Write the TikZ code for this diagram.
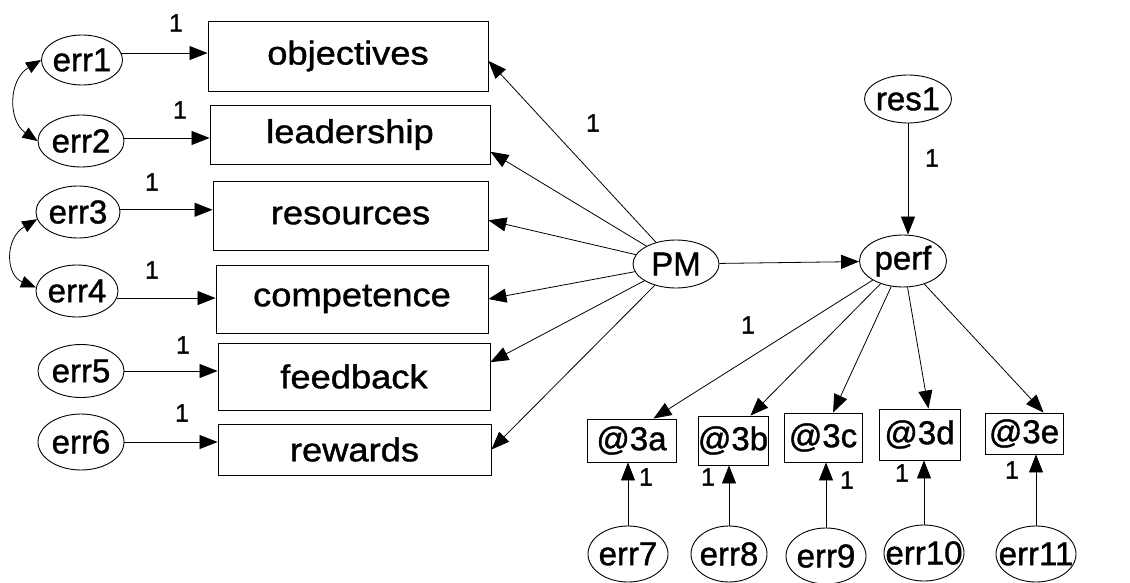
\documentclass[tikz,border=0pt]{standalone}
\usepackage{fontspec}
\setmainfont{Liberation Sans}[FakeStretch=1.1,FakeBold=1.2]
\newfontfamily\plainsans{Liberation Sans}[FakeBold=1.2]
\usetikzlibrary{arrows.meta,shapes.geometric}
\newcommand\ctext[1]{\makebox[0pt]{#1}}
\tikzset{
  latent/.style={ellipse,draw,line width=0.9pt,inner sep=0pt,font=\plainsans\fontsize{33}{36}\selectfont},
  observed/.style={rectangle,draw,line width=0.9pt,inner sep=0pt,font=\fontsize{33}{36}\selectfont},
  indic/.style={rectangle,draw,line width=0.9pt,inner sep=0pt,font=\plainsans\fontsize{33}{36}\selectfont},
  reg/.style={line width=0.8pt,-{Triangle[length=18pt,width=14pt]}},
  covar/.style={line width=0.8pt,{Triangle[length=15pt,width=12pt]}-{Triangle[length=15pt,width=12pt]}},
  wt/.style={font=\plainsans\fontsize{25}{27}\selectfont,inner sep=0pt},
}
\begin{document}
\begin{tikzpicture}[x=1pt,y=-1pt]
\useasboundingbox (0,0) rectangle (1130,583);

% observed indicators of PM
\node[observed,minimum width=280pt,minimum height=70pt] (obj) at (348,56) {\ctext{objectives}};
\node[observed,minimum width=280pt,minimum height=59pt] (lead) at (350,134.5) {\ctext{leadership}};
\node[observed,minimum width=275pt,minimum height=69pt] (res) at (350.5,215.5) {\ctext{resources}};
\node[observed,minimum width=272pt,minimum height=68pt] (comp) at (352,299) {\ctext{competence}};
\node[observed,minimum width=272pt,minimum height=67pt] (feed) at (354,376.5) {\ctext{feedback}};
\node[observed,minimum width=273pt,minimum height=51pt] (rew) at (354.5,449.5) {\ctext{rewards}};

% error terms of the PM indicators
\node[latent,minimum width=81pt,minimum height=50pt] (err1) at (82,60) {\ctext{err1}};
\node[latent,minimum width=86pt,minimum height=52pt] (err2) at (81,141) {\ctext{err2}};
\node[latent,minimum width=84pt,minimum height=52pt] (err3) at (78,212) {\ctext{err3}};
\node[latent,minimum width=82pt,minimum height=52pt] (err4) at (77,291) {\ctext{err4}};
\node[latent,minimum width=86pt,minimum height=53pt] (err5) at (81,371) {\ctext{err5}};
\node[latent,minimum width=86pt,minimum height=56pt] (err6) at (81,442) {\ctext{err6}};

% latent variables
\node[latent,minimum width=86pt,minimum height=48pt] (pm) at (676,264) {\ctext{PM}};
\node[latent,minimum width=87pt,minimum height=52pt] (perf) at (903,261) {\ctext{perf}};
\node[latent,minimum width=87pt,minimum height=48pt] (res1) at (908,99) {\ctext{res1}};

% indicators of perf
\node[indic,minimum width=89pt,minimum height=43pt] (a) at (631.5,440.5) {\ctext{@3a}};
\node[indic,minimum width=70pt,minimum height=49pt] (b) at (733,440.5) {\ctext{@3b}};
\node[indic,minimum width=78pt,minimum height=49pt] (c) at (823,437.5) {\ctext{@3c}};
\node[indic,minimum width=81pt,minimum height=51pt] (d) at (919.5,434.5) {\ctext{@3d}};
\node[indic,minimum width=78pt,minimum height=41pt] (e) at (1024,433.5) {\ctext{@3e}};

% error terms of the perf indicators
\node[latent,minimum width=80pt,minimum height=56pt] (err7) at (628,554) {\ctext{err7}};
\node[latent,minimum width=76pt,minimum height=56pt] (err8) at (729,554) {\ctext{err8}};
\node[latent,minimum width=80pt,minimum height=56pt] (err9) at (826,556) {\ctext{err9}};
\node[latent,minimum width=80pt,minimum height=56pt] (err10) at (924,553) {\ctext{err10}};
\node[latent,minimum width=80pt,minimum height=56pt] (err11) at (1036,554) {\ctext{err11}};

% error paths into the PM indicators
\draw[reg] (err1.10) -- (err1.10 -| obj.west);
\draw[reg] (err2.4) -- (err2.4 -| lead.west);
\draw[reg] (err3.3) -- (err3.3 -| res.west);
\draw[reg] (err4.-10) -- (err4.-10 -| comp.west);
\draw[reg] (err5.east) -- (err5.east -| feed.west);
\draw[reg] (err6.east) -- (err6.east -| rew.west);

% covariances between error terms
\draw[covar] (err1.west) .. controls (8,80) and (8,121) .. (err2.west);
\draw[covar] (err3.190) .. controls (5,238) and (5,275) .. (err4.175);

% loadings of PM
\draw[reg] (pm) -- (obj.-2.5);
\draw[reg] (pm) -- (lead.-7.5);
\draw[reg] (pm) -- (res.-2.7);
\draw[reg] (pm) -- (comp.east);
\draw[reg] (pm) -- (feed.6);
\draw[reg] (pm) -- (rew.east);

% structural paths
\draw[reg] (pm) -- (perf);
\draw[reg] (res1.south) -- (res1.south |- perf.north);

% loadings of perf
\draw[reg] (perf) -- (a.45);
\draw[reg] (perf) -- (b.55);
\draw[reg] (perf) -- (c.68);
\draw[reg] (perf) -- (d.71.5);
\draw[reg] (perf) -- (e.47);

% error paths into the perf indicators
\draw[reg] (err7.north) -- (err7.north |- a.south);
\draw[reg] (err8.north) -- (err8.north |- b.south);
\draw[reg] (err9.north) -- (err9.north |- c.south);
\draw[reg] (err10.north) -- (err10.north |- d.south);
\draw[reg] (err11.north) -- (err11.north |- e.south);

% fixed weights
\node[wt] (w1) at (176,23) {1};
\node[wt] (w2) at (180,110) {1};
\node[wt] (w3) at (152,182) {1};
\node[wt] (w4) at (152,270) {1};
\node[wt] (w5) at (183,345) {1};
\node[wt] (w6) at (182,413) {1};
\node[wt] (wpm) at (593,123) {1};
\node[wt] (wres) at (932,158) {1};
\node[wt] (wperf) at (748,325) {1};
\node[wt] (w7) at (646,477) {1};
\node[wt] (w8) at (708,477) {1};
\node[wt] (w9) at (847,480) {1};
\node[wt] (w10) at (902,473) {1};
\node[wt] (w11) at (1012,470) {1};
\end{tikzpicture}
\end{document}
